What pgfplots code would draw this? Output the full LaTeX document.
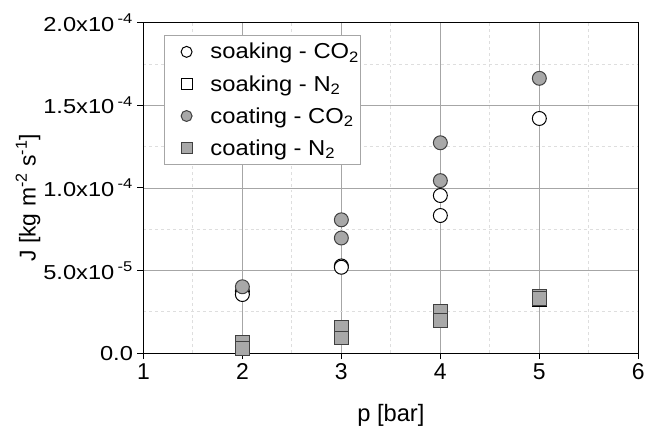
\documentclass[border=0pt]{standalone}
\usepackage{fontspec}
\setmainfont{Liberation Sans}
\newfontfamily\ytickfam{Liberation Sans}[FakeStretch=1.17]
\newfontfamily\legfam{Liberation Sans}[FakeStretch=1.1]
\usepackage{pgfplots}
\pgfplotsset{compat=1.18}

\definecolor{markgray}{HTML}{A8A8A8}
\definecolor{gridmajor}{HTML}{A6A6A6}
\definecolor{gridminor}{HTML}{DEDEDE}

\begin{document}
\begin{tikzpicture}
\begin{axis}[
  scale only axis, width=497bp, height=332bp,
  xmin=1, xmax=6, ymin=0, ymax=2e-4,
  xtick={1,2,3,4,5,6},
  minor xtick={1.5,2.5,3.5,4.5,5.5},
  ytick={0,5e-5,1e-4,1.5e-4,2e-4},
  minor ytick={2.5e-5,7.5e-5,1.25e-4,1.75e-4},
  yticklabels={0.0, 5.0x10\,\textsuperscript{-5}, 1.0x10\,\textsuperscript{-4}, 1.5x10\,\textsuperscript{-4}, 2.0x10\,\textsuperscript{-4}},
  xticklabels={1,2,3,4,5,6},
  scaled y ticks=false,
  yticklabel style={font=\ytickfam\fontsize{20.3bp}{23bp}\selectfont, xshift=-1bp},
  xticklabel style={font=\fontsize{23bp}{26bp}\selectfont, yshift=-1bp},
  xlabel style={font=\fontsize{23.8bp}{27bp}\selectfont, yshift=-18bp},
  ylabel style={font=\fontsize{23bp}{26bp}\selectfont, yshift=-4bp, xshift=-10bp},
  tick align=outside, tick pos=left,
  major tick length=6bp, minor tick length=0pt,
  tick style={black, line width=1bp},
  grid=both,
  major grid style={gridmajor, line width=0.8bp},
  minor grid style={gridminor, dashed, line width=0.8bp},
  axis line style={black, line width=1.3bp},
  xlabel={p [bar]}, ylabel={J [kg m\textsuperscript{-2} s\textsuperscript{-1}]},
  legend style={at={(0.042,0.963)}, anchor=north west, draw=gridmajor, line width=1bp,
    inner xsep=0bp, inner ysep=6bp, row sep=11bp,
    font=\legfam\fontsize{21.7bp}{24bp}\selectfont,
    /tikz/every odd column/.append style={column sep=0bp}},
  legend cell align=left,
  legend image code/.code={\path[draw=none, fill=none] (0bp,0bp) -- (44bp,0bp);
    \draw[#1, mark size=5.5bp] plot coordinates {(22bp,0bp)};},
]
\addplot[only marks, mark=*, mark size=7bp, mark options={fill=white, draw=black, line width=1bp}]
  coordinates {(2,3.75e-5) (2,3.55e-5) (3,5.28e-5) (3,5.2e-5) (4,9.54e-5) (4,8.33e-5) (5,1.42e-4)};
\addlegendentry{soaking - CO\textsubscript{2}}
\addplot[only marks, mark=square*, mark size=7bp, mark options={fill=white, draw=black, line width=1bp}]
  coordinates {(2,2.8e-6) (3,9.2e-6) (4,1.99e-5) (5,3.25e-5)};
\addlegendentry{soaking - N\textsubscript{2}}
\addplot[only marks, mark=*, mark size=7bp, mark options={fill=markgray, draw=black!75, line width=1bp}]
  coordinates {(2,4.02e-5) (3,8.07e-5) (3,6.97e-5) (4,1.273e-4) (4,1.044e-4) (5,1.663e-4)};
\addlegendentry{coating - CO\textsubscript{2}}
\addplot[only marks, mark=square*, mark size=7bp, mark options={fill=markgray, draw=black!75, line width=1bp}]
  coordinates {(2,6.8e-6) (2,2.8e-6) (3,1.55e-5) (3,9.2e-6) (4,2.51e-5) (4,1.99e-5) (5,3.45e-5) (5,3.3e-5)};
\addlegendentry{coating - N\textsubscript{2}}
\end{axis}
\useasboundingbox ([xshift=-144bp,yshift=-79bp]current axis.south west) rectangle ([xshift=7bp,yshift=22.7bp]current axis.north east);
\end{tikzpicture}
\end{document}
